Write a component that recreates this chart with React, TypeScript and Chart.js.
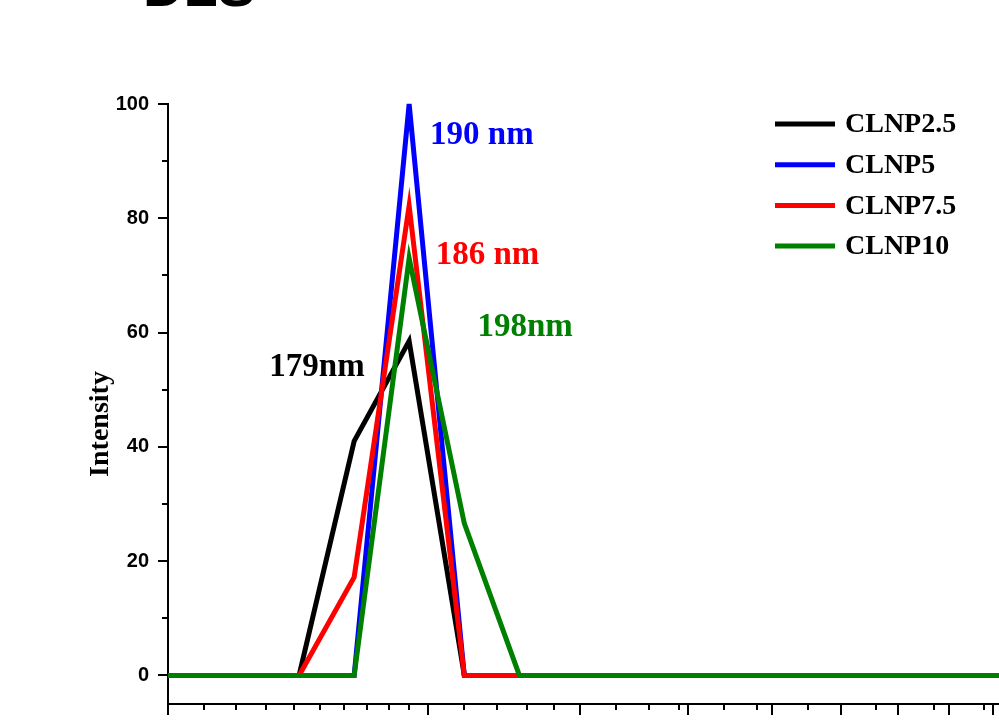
import React, { useEffect, useRef } from 'react';
import { Chart, registerables } from 'chart.js';

Chart.register(...registerables);

// Particle size bins (nm), log spaced
const sizes = [91.28, 105.7, 122.4, 141.8, 164.2, 190.1, 220.2, 255.0, 295.3, 342.0, 396.1, 458.7, 531.2, 615.1, 712.4, 825.0, 955.4];

// Intensity (%) per sample
const clnp25 = [0, 0, 0, 0, 41.0, 58.5, 0, 0, 0, 0, 0, 0, 0, 0, 0, 0, 0];
const clnp5 = [0, 0, 0, 0, 0, 100, 0, 0, 0, 0, 0, 0, 0, 0, 0, 0, 0];
const clnp75 = [0, 0, 0, 0, 17.2, 82.2, 0, 0, 0, 0, 0, 0, 0, 0, 0, 0, 0];
const clnp10 = [0, 0, 0, 0, 0, 73.0, 26.6, 0, 0, 0, 0, 0, 0, 0, 0, 0, 0];

const seriesNames = ['CLNP2.5', 'CLNP5', 'CLNP7.5', 'CLNP10'];
const seriesColors = ['#000000', '#0000ff', '#ff0000', '#008000'];
const seriesValues = [clnp25, clnp5, clnp75, clnp10];

// Axis ticks
const yMajorTicks = [0, 20, 40, 60, 80, 100];
const yMinorTicks = [10, 30, 50, 70, 90];
const xMajorTicks = [100, 200, 300, 400, 500, 600, 700, 800, 900, 1000];

// Peak annotations: text, anchor size (nm, left edge), anchor intensity (centre)
const noteTexts = ['190 nm', '186 nm', '198nm', '179nm'];
const noteX = [201, 204, 228, 131];
const noteY = [94.5, 73.5, 60.9, 53.9];
const noteColors = ['#0000ff', '#ff0000', '#008000', '#000000'];

const SERIF = '"Liberation Serif", "Times New Roman", serif';
const SANS = '"Liberation Sans", Arial, sans-serif';

const decorPlugin = {
  id: 'decor',
  afterDraw(chart: any) {
    const { ctx, chartArea, scales } = chart;
    const x = scales.x;
    const y = scales.y;
    ctx.save();
    ctx.strokeStyle = '#000';
    ctx.lineWidth = 2;
    ctx.lineCap = 'butt';
    const L = chartArea.left;
    const B = chartArea.bottom;
    const seg = (x1: number, y1: number, x2: number, y2: number) => {
      ctx.beginPath();
      ctx.moveTo(x1, y1);
      ctx.lineTo(x2, y2);
      ctx.stroke();
    };
    // y ticks
    yMajorTicks.forEach((v) => {
      const p = Math.round(y.getPixelForValue(v));
      seg(L - 10, p, L, p);
    });
    yMinorTicks.forEach((v) => {
      const p = Math.round(y.getPixelForValue(v));
      seg(L - 6, p, L, p);
    });
    // x ticks (log axis)
    for (let i = 0; i < xMajorTicks.length; i++) {
      const v = xMajorTicks[i];
      if (v >= x.min && v <= x.max + 1e-9) {
        const p = Math.round(x.getPixelForValue(v));
        seg(p, B, p, B + 11);
      }
      const next = xMajorTicks[i + 1];
      if (next !== undefined) {
        const step = v / 10;
        for (let m = v + step; m < next - 1e-9; m += step) {
          if (m >= x.min && m <= x.max) {
            const p = Math.round(x.getPixelForValue(m));
            seg(p, B, p, B + 6);
          }
        }
      }
    }

    // Y axis title
    ctx.fillStyle = '#000';
    ctx.font = `bold 28px ${SERIF}`;
    ctx.textAlign = 'center';
    ctx.textBaseline = 'middle';
    ctx.save();
    ctx.translate(101, (chartArea.top + chartArea.bottom) / 2 + 20);
    ctx.rotate(-Math.PI / 2);
    ctx.fillText('Intensity', 0, 0);
    ctx.restore();

    // Legend (inside plot, top right)
    const lx = chartArea.right - 224;
    ctx.font = `bold 28px ${SERIF}`;
    ctx.textAlign = 'left';
    ctx.textBaseline = 'middle';
    seriesNames.forEach((name, i) => {
      const ly = chartArea.top + 20 + i * 40.7;
      ctx.strokeStyle = seriesColors[i];
      ctx.lineWidth = 5;
      seg(lx, ly, lx + 60, ly);
      ctx.fillStyle = '#000';
      ctx.fillText(name, lx + 70, ly + 1);
    });

    // Peak annotations
    ctx.font = `bold 33px ${SERIF}`;
    noteTexts.forEach((t, i) => {
      ctx.fillStyle = noteColors[i];
      ctx.fillText(t, x.getPixelForValue(noteX[i]), y.getPixelForValue(noteY[i]));
    });

    // Panel heading (cropped at the top edge)
    ctx.fillStyle = '#000';
    ctx.font = `bold 56px ${SANS}`;
    ctx.textBaseline = 'alphabetic';
    ctx.fillText('DLS', 143, 6);
    ctx.restore();
  },
};

export default function App() {
  const ref = useRef<HTMLCanvasElement | null>(null);
  useEffect(() => {
    if (!ref.current) return;
    const order = [4, 3, 2, 1];
    const chart = new Chart(ref.current, {
      type: 'line',
      data: {
        datasets: seriesNames.map((name, i) => ({
          label: name,
          data: sizes.map((s, k) => ({ x: s, y: seriesValues[i][k] })),
          borderColor: seriesColors[i],
          backgroundColor: seriesColors[i],
          borderWidth: 5,
          pointRadius: 0,
          tension: 0,
          fill: false,
          order: order[i],
          clip: { left: 0, top: 8, right: 0, bottom: 8 } as any,
        })),
      },
      options: {
        responsive: false,
        animation: false,
        devicePixelRatio: 1,
        layout: { padding: { top: 104, right: 0, bottom: 0, left: 0 } },
        plugins: {
          legend: { display: false },
          tooltip: { enabled: false },
          title: { display: false },
        },
        scales: {
          x: {
            type: 'logarithmic',
            min: 100,
            max: 915,
            grid: { display: false, drawTicks: false },
            border: { display: true, color: '#000', width: 2 },
            ticks: { display: false },
            afterFit: (s: any) => {
              s.height = 18;
              s.paddingLeft = 0;
              s.paddingRight = 0;
            },
          },
          y: {
            type: 'linear',
            min: -5,
            max: 100,
            grid: { display: false, drawTicks: false },
            border: { display: true, color: '#000', width: 2 },
            afterBuildTicks: (s: any) => {
              s.ticks = yMajorTicks.map((v) => ({ value: v }));
            },
            ticks: {
              color: '#000',
              padding: 19,
              font: { family: SANS, size: 20, weight: 'bold' },
            },
            afterFit: (s: any) => {
              s.width = 168;
              s.paddingTop = 0;
              s.paddingBottom = 0;
            },
          },
        },
      },
      plugins: [decorPlugin],
    });
    return () => chart.destroy();
  }, []);
  return (
    <div style={{ position: 'fixed', left: 0, top: 0, width: 999, height: 722, background: '#fff' }}>
      <canvas ref={ref} width={999} height={722} style={{ display: 'block' }} />
    </div>
  );
}
